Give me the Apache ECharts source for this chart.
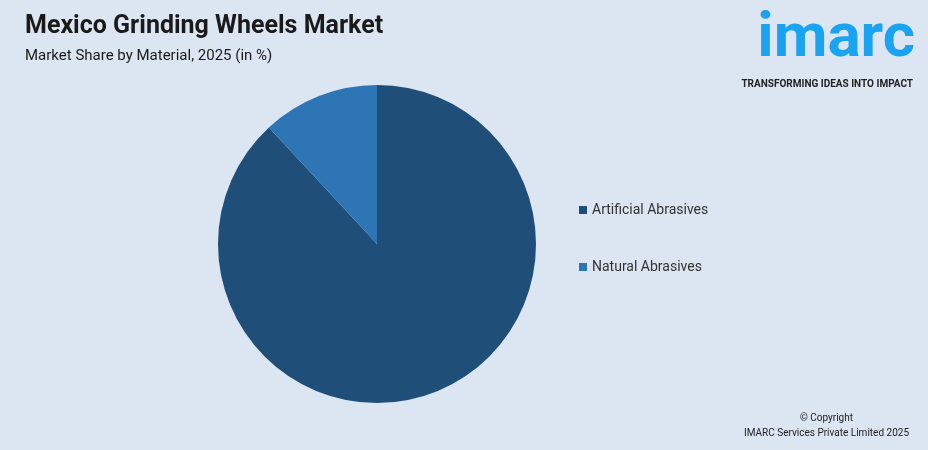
<!DOCTYPE html>
<html><head><meta charset="utf-8">
<script src="https://cdn.jsdelivr.net/npm/echarts@6/dist/echarts.min.js"></script>
<style>html,body{margin:0;padding:0;background:#dce5f2;}#main{width:928px;height:450px;}</style>
</head><body><div id="main"></div>
<script>
var categories = ['Artificial Abrasives', 'Natural Abrasives'];
var shares = [88.1, 11.9];
var colors = ['#1f4e79', '#2e75b6'];

var myChart = echarts.init(document.getElementById('main'));
var option = {
  backgroundColor: '#dce5f2',
  title: [
    { text: 'Mexico Grinding Wheels Market', left: 20, top: 9,
      textStyle: { fontFamily: 'Roboto', fontSize: 25, fontWeight: 'bold', color: '#1a1a1a' } },
    { text: 'Market Share by Material, 2025 (in %)', left: 20, top: 44,
      textStyle: { fontFamily: 'Roboto', fontSize: 15, fontWeight: 'normal', color: '#1a1a1a' } },
    { text: 'imarc', right: 8, top: 4,
      textStyle: { fontFamily: 'Roboto', fontSize: 62, fontWeight: 'bold', color: '#1aa3f0' } },
    { text: 'TRANSFORMING IDEAS INTO IMPACT', right: 10, top: 74,
      textStyle: { fontFamily: 'Roboto', fontSize: 10, fontWeight: 'bold', color: '#222' } },
    { text: '© Copyright', right: 70, top: 408,
      textStyle: { fontFamily: 'Roboto', fontSize: 10, fontWeight: 'normal', color: '#222' } },
    { text: 'IMARC Services Private Limited 2025', right: 14, top: 423,
      textStyle: { fontFamily: 'Roboto', fontSize: 10, fontWeight: 'normal', color: '#222' } }
  ],
  legend: {
    orient: 'vertical', left: 574, top: 198, itemGap: 43,
    icon: 'rect', itemWidth: 8, itemHeight: 8,
    textStyle: { fontFamily: 'Roboto', fontSize: 14, color: '#333' },
    data: categories
  },
  series: [{
    type: 'pie', center: [377, 244], radius: 159, startAngle: 90,
    label: { show: false }, labelLine: { show: false },
    itemStyle: { borderWidth: 0 },
    data: categories.map(function (c, i) {
      return { name: c, value: shares[i], itemStyle: { color: colors[i] } };
    })
  }]
};
myChart.setOption(option);
</script></body></html>
